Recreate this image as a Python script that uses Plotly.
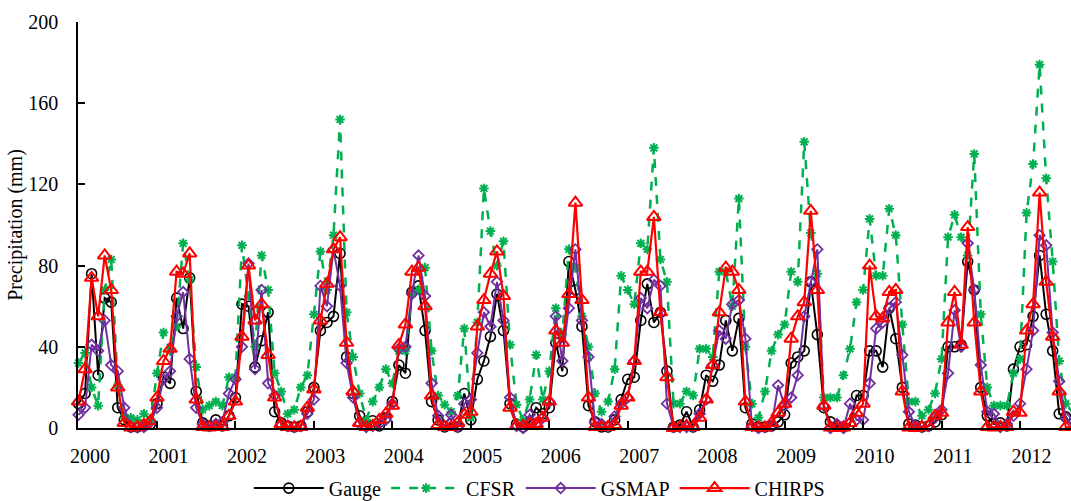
import plotly.graph_objects as go

# Monthly precipitation (mm), Jan 2000 onward (visible part of the chart)
gauge = [12, 17, 76, 26, 64, 62, 10, 4, 0.5, 0.5, 1, 2,
         12, 25, 22, 64, 49, 74, 18, 2.5, 1, 4, 1, 6,
         15, 61, 60, 30, 43, 57, 8, 2.5, 1, 0.5, 1, 8,
         20, 48, 52, 55, 86, 35, 17, 6, 1.3, 3.6, 1, 5,
         13, 31, 27, 67, 70, 48, 13, 4, 0.5, 2, 0.5, 17,
         4, 24, 33, 45, 66, 48, 12, 2, 0.5, 3, 10, 7,
         10, 42, 28, 82, 68, 50, 11, 3, 0.5, 0.5, 4, 14,
         24, 25, 53, 71, 52, 57, 28, 0.5, 1.5, 8, 0.5, 9,
         26, 23, 31, 53, 38, 54, 10, 2, 0.5, 0.5, 1, 3,
         6.5, 32, 35, 38, 72, 46, 10, 3, 1, 0.5, 2, 16,
         16, 38, 38, 30, 59, 44, 20, 2, 1.5, 0.5, 1, 3,
         6.5, 40, 40, 41, 82, 68, 20, 6, 2, 2.5, 1, 29,
         40, 41, 55, 85, 56, 38, 7, 5.5, 1]

cfsr = [32, 37, 20, 11, 68, 83, 21, 5, 5, 4, 7, 4,
        27, 47, 38, 50, 91, 73, 30, 9, 11, 13, 11, 25,
        25, 90, 65, 40, 85, 68, 27, 18, 7, 9, 20, 26,
        56, 87, 68, 95, 152, 57, 35, 17, 4, 13, 20, 29,
        22, 38, 38, 66, 68, 79, 38, 16, 11.5, 8, 16, 49,
        5, 52, 118, 97, 80, 92, 41, 11.5, 4, 14, 36, 14,
        28, 59, 46, 88, 79, 55, 40, 17, 8, 13, 29, 75,
        68, 61, 91, 88, 138, 83, 72, 12, 12, 18, 16, 39,
        39, 35, 77, 77, 60, 113, 40, 12, 5, 18, 38, 46,
        51, 77, 72, 141, 96, 76, 15, 15, 15, 26, 39, 62,
        68, 103, 75, 75, 108, 95, 51, 13, 13, 6, 9, 17,
        34, 94, 105, 94, 85, 135, 56, 20, 11, 11, 11, 27,
        34, 106, 130, 179, 123, 82, 33, 12, 8]

gsmap = [6.5, 10, 41, 38, 53, 31, 28, 10, 0.5, 0.3, 0.5, 3,
         10, 24, 28, 55, 67, 34, 10, 2, 1, 2, 3, 17,
         24, 40, 81, 29, 68, 22, 16, 1.5, 1, 0.5, 1, 7,
         14, 70, 60, 88, 70, 32, 15, 2, 0.5, 1, 2, 4,
         12, 39, 40, 66, 85, 65, 22, 6, 1, 6.5, 0.5, 12,
         14, 37, 57, 50, 72, 53, 15, 1, 0, 6.5, 2, 5,
         13, 55, 33, 59, 88, 53, 35, 3, 2, 0.5, 5.7, 12,
         15, 33, 64, 59, 73, 70, 12, 0.5, 0.5, 0.5, 0.5, 7,
         14, 31, 48, 44, 61, 63, 44, 1, 0, 0.5, 1, 21,
         11, 15, 26, 55, 72, 88, 11, 0, 2, 0, 12, 4,
         4, 22, 49, 52, 59, 62, 36, 8, 1, 0.5, 1, 5,
         9, 27, 58, 40, 91, 68, 31, 8, 7, 0.5, 2, 6,
         12, 29, 48, 95, 90, 47, 23, 5, 1]

chirps = [13, 29, 74, 55, 85, 68, 20, 2.5, 0.3, 0.5, 1.5, 3.5,
          15, 33, 39, 77, 76, 86, 14, 0.5, 0.3, 0.5, 0.5, 6,
          13, 45, 80, 53, 61, 36, 15, 2, 0.5, 0.3, 0.5, 10,
          19, 53, 71, 88, 94, 42, 18, 2.5, 0.5, 1, 4, 7,
          11, 41, 51, 77, 79, 60, 16, 1.5, 0.5, 0.5, 2.5, 6.5,
          8, 50, 63, 76, 87, 65, 10, 1, 1, 2, 2, 5,
          13, 48, 42, 66, 111, 63, 15, 0.5, 0.5, 0.5, 1.5, 11,
          15, 33, 77, 77, 104, 57, 25, 0, 0.5, 1, 0.5, 5,
          14, 31, 57, 79, 77, 68, 13, 0.5, 0.3, 0.3, 2.5, 7.5,
          12, 44, 55, 62, 107, 68, 11, 0.3, 0, 0.3, 2.5, 7.5,
          12, 80, 55, 54, 67, 68, 18, 0.3, 0, 0.5, 1, 6,
          7.5, 52, 67, 41, 99, 52, 18, 0.5, 0.3, 0.5, 0.5, 8,
          7.5, 48, 61, 116, 72, 45, 18, 0.5, 0.3]

years = [str(y) for y in range(2000, 2013)]
months = list(range(len(gauge)))          # month index from Jan 2000
year_starts = [12 * k for k in range(len(years))]
label_pos = [12 * k + 1.75 for k in range(len(years))]

FONT = "Liberation Serif"
xr = [-0.08, 151.8]

fig = go.Figure()
fig.add_trace(go.Scatter(
    x=months, y=gauge, name="Gauge", mode="lines+markers",
    line=dict(color="black", width=2),
    marker=dict(symbol="circle-open", size=10, color="black", line=dict(width=1.6)),
    cliponaxis=False))
fig.add_trace(go.Scatter(
    x=months, y=cfsr, name="CFSR", mode="lines+markers",
    line=dict(color="#00B050", width=2.5, dash="dash"),
    marker=dict(symbol="asterisk-open", size=8, color="#00B050", line=dict(width=2, color="#00B050")),
    cliponaxis=False))
fig.add_trace(go.Scatter(
    x=months, y=gsmap, name="GSMAP", mode="lines+markers",
    line=dict(color="#7030A0", width=2),
    marker=dict(symbol="diamond-open", size=8, color="#7030A0", line=dict(width=1.8)),
    cliponaxis=False))
fig.add_trace(go.Scatter(
    x=months, y=chirps, name="CHIRPS", mode="lines+markers",
    line=dict(color="#FF0000", width=2.2),
    marker=dict(symbol="triangle-up-open", size=12, color="#FF0000", line=dict(width=2)),
    cliponaxis=False))
# helper trace so the year-label axis is drawn
fig.add_trace(go.Scatter(x=[label_pos[0]], y=[None], xaxis="x2", showlegend=False,
                         hoverinfo="skip", mode="markers"))

fig.update_layout(
    width=1071, height=501,
    margin=dict(l=78, r=0, t=22, b=73, autoexpand=False),
    paper_bgcolor="white", plot_bgcolor="white",
    font=dict(family=FONT, size=20, color="black"),
    showlegend=True,
    legend=dict(orientation="h", x=0.172, xanchor="left", y=-0.148, yanchor="middle",
                font=dict(family=FONT, size=20, color="black"), itemwidth=70,
                bgcolor="rgba(0,0,0,0)"),
    xaxis=dict(range=xr, tickmode="array", tickvals=year_starts, ticktext=["" for _ in years],
               ticks="inside", ticklen=7, tickwidth=1.5, tickcolor="black",
               showline=True, linecolor="black", linewidth=2, showgrid=False, zeroline=False),
    xaxis2=dict(range=xr, overlaying="x", side="bottom", anchor="y", tickmode="array",
                tickvals=label_pos, ticktext=years, ticks="", showline=False, showgrid=False,
                zeroline=False, ticklabelstandoff=14,
                tickfont=dict(family=FONT, size=20, color="black")),
    yaxis=dict(range=[0, 200], tickmode="array", tickvals=[0, 40, 80, 120, 160, 200],
               ticks="inside", ticklen=7, tickwidth=1.5, tickcolor="black",
               showline=True, linecolor="black", linewidth=1.5, showgrid=False, zeroline=False,
               ticklabelstandoff=14,
               tickfont=dict(family=FONT, size=20, color="black"),
               title=dict(text="Precipitation (mm)", standoff=0,
                          font=dict(family=FONT, size=20, color="black"))),
)

fig.write_html("out.html")
